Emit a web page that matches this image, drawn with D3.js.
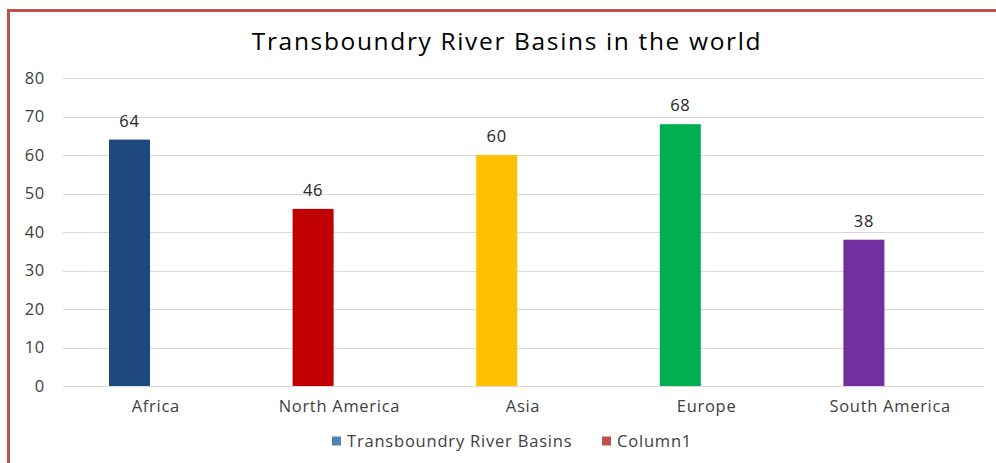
<!DOCTYPE html>
<html>
<head>
<meta charset="utf-8">
<script src="https://cdn.jsdelivr.net/npm/d3@7"></script>
<style>
  body { margin: 0; background: #fff; }
  text { font-family: "Open Sans", sans-serif; letter-spacing: 0.7px; }
</style>
</head>
<body>
<div id="chart"></div>
<script>
(function() {
var width = 996,
  height = 463;

var regions = ["Africa", "North America", "Asia", "Europe", "South America"];
var basins = [64, 46, 60, 68, 38];
var regionColors = ["#1f497d", "#c00000", "#ffc000", "#00b050", "#7030a0"];
var seriesNames = ["Transboundry River Basins", "Column1"];
var seriesColors = ["#4f81bd", "#c0504d"];
var yTicks = [0, 10, 20, 30, 40, 50, 60, 70, 80];

var svg = d3.select("#chart")
  .append("svg")
  .attr("width", width)
  .attr("height", height)

// frame (top + left red edge)
svg.append("line")
  .attr("x1", 7).attr("x2", width)
  .attr("y1", 10.5).attr("y2", 10.5)
  .attr("stroke", "#c0504d").attr("stroke-width", 3)
svg.append("line")
  .attr("x1", 8.5).attr("x2", 8.5)
  .attr("y1", 9).attr("y2", height)
  .attr("stroke", "#c0504d").attr("stroke-width", 3)

svg.append("text")
  .attr("x", 507)
  .attr("y", 50)
  .attr("text-anchor", "middle")
  .attr("font-size", 24.5)
  .style("letter-spacing", "1.65px")
  .attr("fill", "#000")
  .text("Transboundry River Basins in the world")

var x = d3.scaleBand().domain(regions).range([63, 981])
var inner = d3.scaleBand().domain(seriesNames).range([46, 128])
var y = d3.scaleLinear().domain([0, 80]).range([386, 78])

// gridlines
svg.append("g")
  .selectAll("line")
  .data(yTicks)
  .enter().append("line")
  .attr("x1", 63).attr("x2", 984)
  .attr("y1", function(d) { return Math.round(y(d)) + 0.5 })
  .attr("y2", function(d) { return Math.round(y(d)) + 0.5 })
  .attr("stroke", "#d9d9d9")

var yAxis = svg.append("g")
  .attr("transform", "translate(53,0)")
  .call(d3.axisLeft(y).tickValues(yTicks).tickSize(0).tickPadding(8))
yAxis.select(".domain").remove()
yAxis.selectAll("text")
  .attr("font-size", 16.5)
  .attr("fill", "#404040")
  .style("font-family", "'Open Sans', sans-serif")

var xAxis = svg.append("g")
  .attr("transform", "translate(1,386)")
  .call(d3.axisBottom(x).tickSize(0).tickPadding(14))
xAxis.select(".domain").remove()
xAxis.selectAll("text")
  .attr("font-size", 16.5)
  .attr("fill", "#404040")
  .style("font-family", "'Open Sans', sans-serif")

var bars = svg.selectAll(".bar")
  .data(regions)
  .enter().append("g")
  .attr("class", "bar")

bars.append("rect")
  .attr("x", function(d) { return x(d) + inner(seriesNames[0]) })
  .attr("width", inner.bandwidth())
  .attr("y", function(d, i) { return y(basins[i]) })
  .attr("height", function(d, i) { return y(0) - y(basins[i]) })
  .attr("fill", function(d, i) { return regionColors[i] })

bars.append("text")
  .attr("x", function(d) { return x(d) + inner(seriesNames[0]) + inner.bandwidth() / 2 })
  .attr("y", function(d, i) { return y(basins[i]) - 13 })
  .attr("text-anchor", "middle")
  .attr("font-size", 16.5)
  .attr("fill", "#262626")
  .text(function(d, i) { return basins[i] })

// legend
var legendX = [332, 602];
var legend = svg.selectAll(".legend")
  .data(seriesNames)
  .enter().append("g")
  .attr("class", "legend")
  .attr("transform", function(d, i) { return "translate(" + legendX[i] + ",441)" })

legend.append("rect")
  .attr("x", 0).attr("y", -4.5)
  .attr("width", 9).attr("height", 9)
  .attr("fill", function(d, i) { return seriesColors[i] })

legend.append("text")
  .attr("x", 15)
  .attr("y", 6)
  .attr("font-size", 16.5)
  .style("letter-spacing", "0.8px")
  .attr("fill", "#404040")
  .text(function(d) { return d })
})();
</script>
</body>
</html>
